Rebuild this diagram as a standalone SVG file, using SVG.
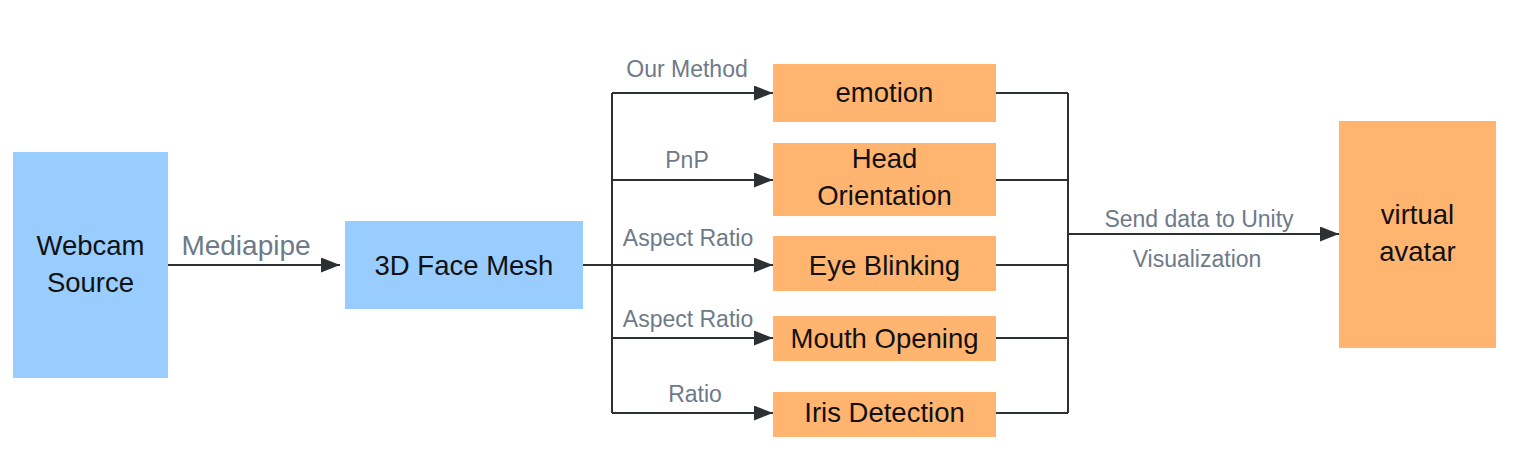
<svg xmlns="http://www.w3.org/2000/svg" width="1516" height="452" viewBox="0 0 1516 452">
<defs>
<marker id="arr" markerWidth="20" markerHeight="16" refX="19" refY="7.5" orient="auto" markerUnits="userSpaceOnUse">
<path d="M0,0 L19,7.5 L0,15 Z" fill="#2d3033"/>
</marker>
<style>
.blue{fill:#99CCFF;}
.orange{fill:#FFB570;}
.t{font-family:"Liberation Sans",Arial,sans-serif;font-size:27.5px;fill:#111;text-anchor:middle;}
.lbl{font-family:"Liberation Sans",Arial,sans-serif;font-size:23px;fill:#6E7A88;text-anchor:middle;}
.big{font-size:28px;}
.ln{fill:none;stroke:#2d3033;stroke-width:2;}
</style>
</defs>
<rect width="1516" height="452" fill="#ffffff"/>
<g id="connectors">
<path class="ln" d="M168,265 H340" marker-end="url(#arr)"/>
<path class="ln" d="M583,265 H773" marker-end="url(#arr)"/>
<path class="ln" d="M612,93 V413"/>
<path class="ln" d="M612,93 H773" marker-end="url(#arr)"/>
<path class="ln" d="M612,180 H773" marker-end="url(#arr)"/>
<path class="ln" d="M612,338 H773" marker-end="url(#arr)"/>
<path class="ln" d="M612,413 H773" marker-end="url(#arr)"/>
<path class="ln" d="M996,93 H1068 M996,180 H1068 M996,265 H1068 M996,338 H1068 M996,413 H1068"/>
<path class="ln" d="M1068,93 V413"/>
<path class="ln" d="M1068,234 H1339" marker-end="url(#arr)"/>
<text class="lbl big" x="246" y="255">Mediapipe</text>
<text class="lbl" x="687" y="77">Our Method</text>
<text class="lbl" x="687" y="168">PnP</text>
<text class="lbl" x="688" y="246">Aspect Ratio</text>
<text class="lbl" x="688" y="327">Aspect Ratio</text>
<text class="lbl" x="695" y="402">Ratio</text>
<text class="lbl" x="1199" y="227">Send data to Unity</text>
<text class="lbl" x="1197" y="267">Visualization</text>
</g>
<g id="webcam">
<rect class="blue" x="13" y="152" width="155" height="226"/>
<text class="t" x="90.5" y="255">Webcam</text>
<text class="t" x="90.5" y="292">Source</text>
</g>
<g id="facemesh">
<rect class="blue" x="345" y="221" width="238" height="88"/>
<text class="t" x="464" y="275">3D Face Mesh</text>
</g>
<g id="emotion">
<rect class="orange" x="773" y="64" width="223" height="58"/>
<text class="t" x="884.5" y="102">emotion</text>
</g>
<g id="head">
<rect class="orange" x="773" y="143" width="223" height="73"/>
<text class="t" x="884.5" y="168">Head</text>
<text class="t" x="884.5" y="205">Orientation</text>
</g>
<g id="eye">
<rect class="orange" x="773" y="236" width="223" height="55"/>
<text class="t" x="884.5" y="275">Eye Blinking</text>
</g>
<g id="mouth">
<rect class="orange" x="773" y="316" width="223" height="45"/>
<text class="t" x="884.5" y="348">Mouth Opening</text>
</g>
<g id="iris">
<rect class="orange" x="773" y="392" width="223" height="45"/>
<text class="t" x="884.5" y="422">Iris Detection</text>
</g>
<g id="avatar">
<rect class="orange" x="1339" y="121" width="157" height="227"/>
<text class="t" x="1417.5" y="224">virtual</text>
<text class="t" x="1417.5" y="261">avatar</text>
</g>
</svg>
